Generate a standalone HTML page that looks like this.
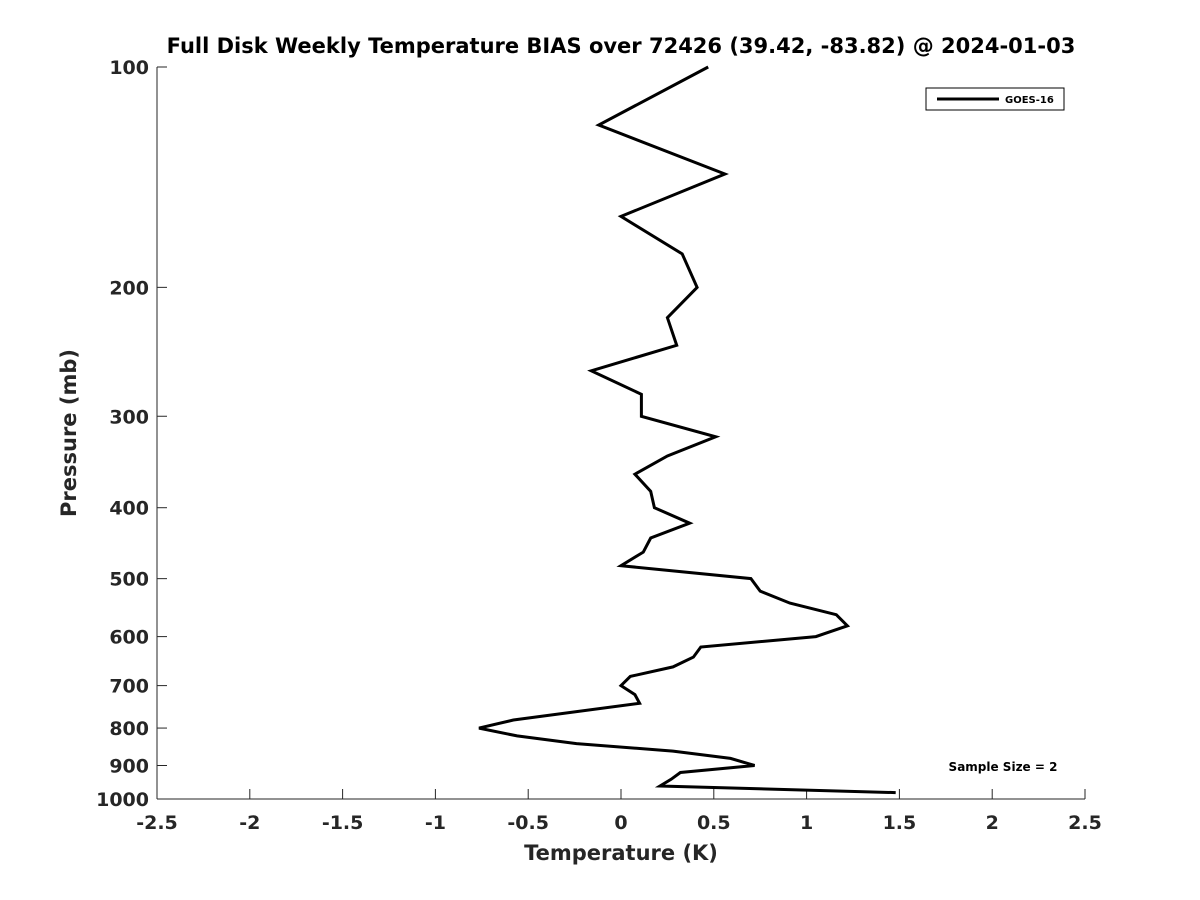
<!DOCTYPE html>
<html><head><meta charset="utf-8"><style>body{margin:0;background:#fff}svg{display:block;font-family:"DejaVu Sans","Liberation Sans",sans-serif;font-weight:bold}</style></head>
<body>
<svg id="chart" width="1200" height="900" xmlns="http://www.w3.org/2000/svg">
<rect width="1200" height="900" fill="#fff"/>
<text x="621" y="53" text-anchor="middle" font-size="21">Full Disk Weekly Temperature BIAS over 72426 (39.42, -83.82) @ 2024-01-03</text>
<g id="axes"></g>
<polyline id="series" fill="none" stroke="#000" stroke-width="3" stroke-linejoin="miter"/>
<g>
<rect x="926" y="88" width="138" height="22" fill="#fff" stroke="#000" stroke-width="1"/>
<line x1="937" y1="99" x2="999" y2="99" stroke="#000" stroke-width="3"/>
<text x="1005" y="103" font-size="10">GOES-16</text>
</g>
<text x="1003" y="771" text-anchor="middle" font-size="12">Sample Size = 2</text>
<text x="621" y="860" text-anchor="middle" font-size="21" fill="#262626">Temperature (K)</text>
<text transform="translate(76,433) rotate(-90)" text-anchor="middle" font-size="21" fill="#262626">Pressure (mb)</text>
</svg>
<script>
const pressures=[100,120,140,160,180,200,220,240,260,280,300,320,340,360,380,400,420,440,460,480,500,520,540,560,580,600,620,640,660,680,700,720,740,780,800,820,840,860,880,900,920,940,960,980];
const bias=[0.47,-0.12,0.56,0.0,0.33,0.41,0.25,0.30,-0.16,0.11,0.11,0.51,0.25,0.075,0.16,0.18,0.37,0.16,0.12,0.0,0.70,0.75,0.91,1.16,1.22,1.05,0.43,0.39,0.28,0.05,0.0,0.075,0.10,-0.58,-0.765,-0.56,-0.24,0.28,0.59,0.72,0.32,0.27,0.21,1.48];
const xTicks=[-2.5,-2,-1.5,-1,-0.5,0,0.5,1,1.5,2,2.5];
const yTicks=[100,200,300,400,500,600,700,800,900,1000];
const X0=157,X1=1085,Y0=67,Y1=799;
const xs=v=>X0+(v+2.5)/5*(X1-X0);
const ys=p=>Y0+(Math.log10(p)-2)*(Y1-Y0);
const NS='http://www.w3.org/2000/svg';
const ax=document.getElementById('axes');
function mk(t,a){const e=document.createElementNS(NS,t);for(const k in a)e.setAttribute(k,a[k]);ax.appendChild(e);return e;}
const xl=mk('line',{x1:X0,y1:Y1,x2:X1,y2:Y1,stroke:'#262626','stroke-width':1});


const yl=mk('line',{x1:X0,y1:Y0,x2:X0,y2:Y1,stroke:'#262626','stroke-width':1});


xTicks.forEach(v=>{const x=xs(v);
mk('line',{x1:x,y1:Y1,x2:x,y2:Y1-10,stroke:'#262626'});
const t=mk('text',{x:x,y:Y1+30,'text-anchor':'middle','font-size':19,fill:'#262626'});t.textContent=v;

});
yTicks.forEach(p=>{const y=ys(p);
mk('line',{x1:X0,y1:y,x2:X0+10,y2:y,stroke:'#262626'});
const t=mk('text',{x:X0-8,y:y+7,'text-anchor':'end','font-size':19,fill:'#262626'});t.textContent=p;

});
document.getElementById('series').setAttribute('points',pressures.map((p,i)=>xs(bias[i]).toFixed(1)+','+ys(p).toFixed(1)).join(' '));
</script>
</body></html>
